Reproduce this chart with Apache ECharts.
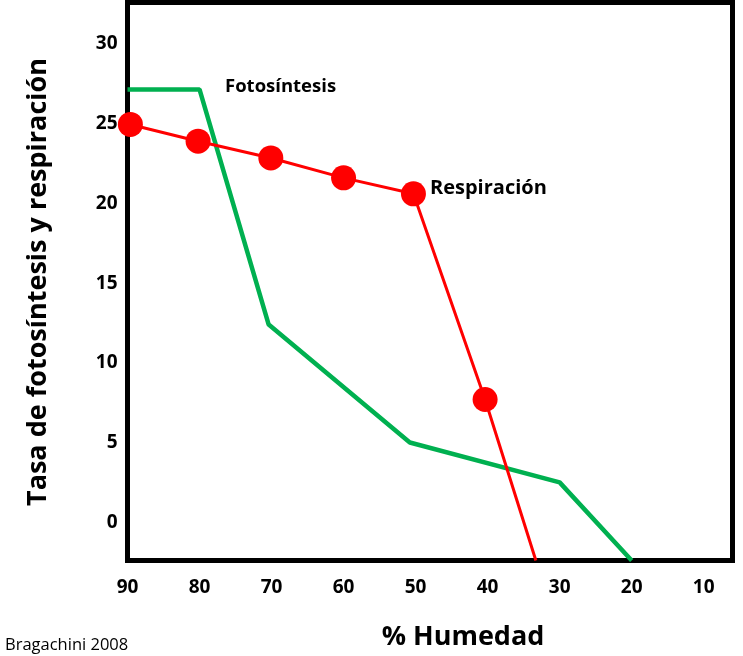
<!DOCTYPE html>
<html>
<head>
<meta charset="utf-8">
<script src="https://cdn.jsdelivr.net/npm/echarts@6/dist/echarts.min.js"></script>
<style>html,body{margin:0;padding:0;background:#fff}#c{width:743px;height:656px}</style>
</head>
<body>
<div id="c"></div>
<script>
// Data
const xTicks = [90, 80, 70, 60, 50, 40, 30, 20, 10];
const yTicks = [0, 5, 10, 15, 20, 25, 30];
const fotoHumedad = [90, 80, 70.4, 50.8, 30, 20];
const fotosintesis = [27.15, 27.15, 12.4, 5.0, 2.5, -2.4];
const respHumedad = [89.6, 80.2, 70.1, 60, 50.3, 40.35, 33.3];
const respiracion = [24.95, 23.9, 22.85, 21.6, 20.6, 7.7, -2.4];
const respMarked = [true, true, true, true, true, true, false];

const font = '"Open Sans", "Noto Sans", sans-serif';
const chart = echarts.init(document.getElementById('c'));
chart.setOption({
  animation: false,
  grid: {left: 127.5, right: 10.5, top: 2.5, bottom: 95.5, show: true,
         borderColor: '#000', borderWidth: 5, backgroundColor: 'transparent'},
  xAxis: {
    type: 'value', inverse: true, min: 6, max: 90,
    axisLine: {show: false}, axisTick: {show: false}, splitLine: {show: false},
    axisLabel: {customValues: xTicks, color: '#000', fontFamily: font, fontWeight: 'bold', fontSize: 19, margin: 18}
  },
  yAxis: {
    type: 'value', min: -2.4, max: 32.6,
    axisLine: {show: false}, axisTick: {show: false}, splitLine: {show: false},
    axisLabel: {customValues: yTicks, color: '#000', fontFamily: font, fontWeight: 'bold', fontSize: 19, margin: 10}
  },
  series: [
    {
      type: 'line', clip: false, symbol: 'none',
      lineStyle: {color: '#00B050', width: 4.5},
      data: fotoHumedad.map((x, i) => [x, fotosintesis[i]])
    },
    {
      type: 'line', clip: false, symbol: 'circle', symbolSize: 25,
      lineStyle: {color: '#FF0000', width: 3},
      itemStyle: {color: '#FF0000'},
      data: respHumedad.map((x, i) => respMarked[i] ? [x, respiracion[i]] : {value: [x, respiracion[i]], symbol: 'none'})
    }
  ],
  graphic: [
    {type: 'text', x: 225, y: 87, style: {text: 'Fotosíntesis', fill: '#000', font: 'bold 18.5px ' + font, verticalAlign: 'middle'}},
    {type: 'text', x: 430, y: 188, style: {text: 'Respiración', fill: '#000', font: 'bold 20px ' + font, verticalAlign: 'middle'}},
    {type: 'text', x: 38, y: 282, rotation: Math.PI / 2,
     style: {text: 'Tasa de fotosíntesis y respiración', fill: '#000', font: 'bold 27px ' + font, align: 'center', verticalAlign: 'middle'}},
    {type: 'text', x: 463, y: 637,
     style: {text: '% Humedad', fill: '#000', font: 'bold 27px ' + font, align: 'center', verticalAlign: 'middle'}},
    {type: 'text', x: 5, y: 645,
     style: {text: 'Bragachini 2008', fill: '#000', font: '16.5px ' + font, align: 'left', verticalAlign: 'middle'}}
  ]
});
</script>
</body>
</html>
